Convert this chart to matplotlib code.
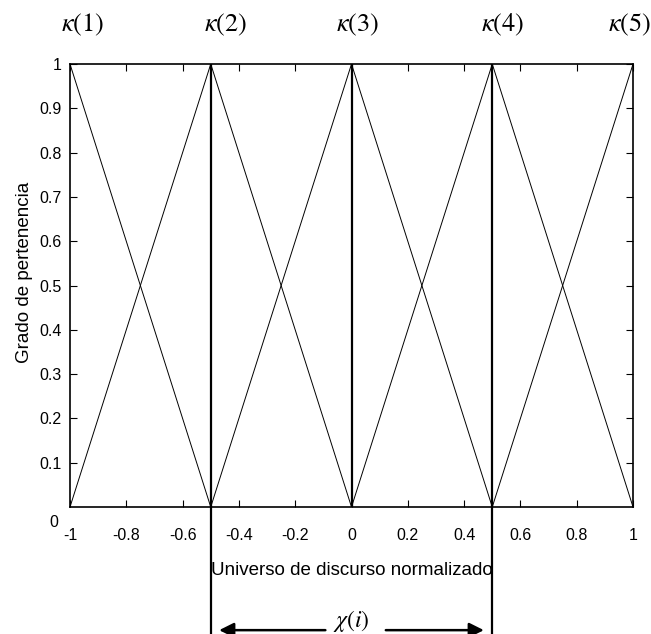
import numpy as np
import matplotlib.pyplot as plt

plt.rcParams['font.family'] = ['Liberation Sans', 'DejaVu Sans']
plt.rcParams['mathtext.fontset'] = 'stix'

# centros de los conjuntos difusos triangulares
centros = [-1.0, -0.5, 0.0, 0.5, 1.0]
ancho = 0.5
etiquetas = [r'$\kappa(1)$', r'$\kappa(2)$', r'$\kappa(3)$', r'$\kappa(4)$', r'$\kappa(5)$']
pos_etiquetas = [-0.954, -0.449, 0.023, 0.535, 0.989]
xticks = [-1, -0.8, -0.6, -0.4, -0.2, 0, 0.2, 0.4, 0.6, 0.8, 1]
yticks = [0.1, 0.2, 0.3, 0.4, 0.5, 0.6, 0.7, 0.8, 0.9, 1]

fig = plt.figure(figsize=(6.51, 6.34), dpi=100)
ax = fig.add_axes([0.1075, 0.2003, 0.8649, 0.6987])

for c in centros:
    ax.plot([c - ancho, c, c + ancho], [0, 1, 0], color='black', lw=0.7)

# lineas verticales en los centros interiores
for c in centros[1:-1]:
    ax.plot([c, c], [0, 1], color='black', lw=1.6)
for c in [centros[1], centros[3]]:
    ax.plot([c, c], [0, -0.29], color='black', lw=1.6, clip_on=False)

ax.set_xlim(-1, 1)
ax.set_ylim(0, 1)
ax.set_xticks(xticks)
ax.set_xticklabels([f'{v:g}' for v in xticks])
ax.set_yticks(yticks)
ax.set_yticklabels([f'{v:g}' for v in yticks])
ax.tick_params(direction='in', top=True, right=True, length=5, width=0.8, labelsize=11.5)
ax.tick_params(axis='x', pad=15)
ax.tick_params(axis='y', pad=6)
for s in ax.spines.values():
    s.set_linewidth(1.2)

ax.text(-0.02, -0.035, '0', transform=ax.transAxes, ha='right', va='center', fontsize=11.5)

ax.set_xlabel('Universo de discurso normalizado', fontsize=13.5)
ax.xaxis.set_label_coords(0.5, -0.125)
ax.set_ylabel('Grado de pertenencia', fontsize=13.5)
ax.yaxis.set_label_coords(-0.066, 0.53)

for x, t in zip(pos_etiquetas, etiquetas):
    ax.text(x, 1.088, t, ha='center', va='center', fontsize=19)

# flecha que marca la distancia entre centros
ya = -0.278
ax.text(0.0, -0.258, r'$\chi(i)$', ha='center', va='center', fontsize=17)
ax.annotate('', xy=(centros[1] + 0.02, ya), xytext=(-0.083, ya),
            arrowprops=dict(arrowstyle='-|>', color='black', lw=1.8, mutation_scale=22),
            annotation_clip=False)
ax.annotate('', xy=(centros[3] - 0.02, ya), xytext=(0.112, ya),
            arrowprops=dict(arrowstyle='-|>', color='black', lw=1.8, mutation_scale=22),
            annotation_clip=False)

fig.savefig('out.png', dpi=100)
